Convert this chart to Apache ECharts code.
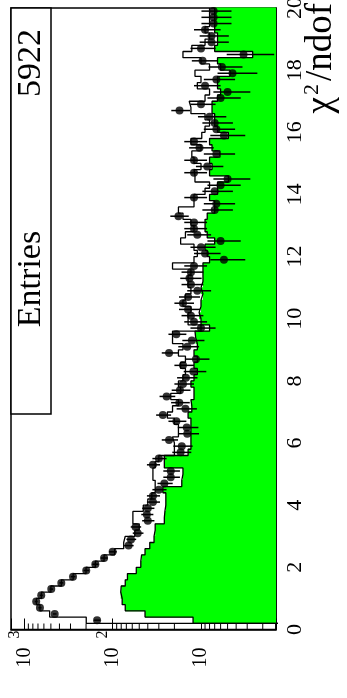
<!DOCTYPE html>
<html><head><meta charset="utf-8">
<script src="https://cdn.jsdelivr.net/npm/echarts@6/dist/echarts.min.js"></script>
<style>html,body{margin:0;padding:0;background:#fff}#c{width:347px;height:698px}</style>
</head><body><div id="c"></div>
<script>
const FONT = 'Liberation Serif';
const chiLo = 0, chiHi = 20, nBins = 100;
const edges = Array.from({length: nBins + 1}, (_, i) => +(chiLo + (chiHi - chiLo) * i / nBins).toFixed(4));

// data points (black markers), bins of 0.2 in chi2/ndof
const dataCounts = [
  0,150,453,665,733,643,495,381,281,199,
  157,125,100,66,62,52,55,40,41,40,
  35,35,30,26,22,22,35,30,17,16.5,
  23,14.3,14.5,19,27,15,17.6,24.5,17.3,16,
  14.8,12.2,16,11.4,23,14.3,12.7,19,10,12,
  13,14,16,14,11,13,13.5,13,12,5.5,
  9,10,6,11,12,12,18,7,6.7,12,
  7,6,5,12,8.5,12,6.7,10.4,12,5.5,
  6.7,7,8,17.5,10,6,5,9,6.7,4.4,
  5.8,9.6,3.3,10,7.6,7.6,9,7.2,7.2,7.2
];
// open (white) histogram
const mcOpen = [
  0,199,516,665,730,640,500,380,280,200,
  157,125,95,75,72,56,50,59,59,45,
  40,36,33,33,35,35,33,30,20,20,
  21,18,18,20,24,21,18,22,17,18,
  16,15,17,15,18,16,21,21,10,14,
  14,13,16,15,13,14,14,13,21,12,
  11,12,17,15,12,13,16,18,12,12,
  9,8,11.7,12,10,12,12.7,10,13,9.8,
  9,8,9,13,13.6,9,8,11,10,11.7,
  8,10,16,12.7,9,8,9,8,8,8
];
// green filled histogram
const mcGreen = [
  0,12.3,43,72,78,81,80,72,68,54,
  48,47,43,38,34,33,33,26,25.6,25,
  25,25,27,16.5,16,16,26,26,14,13,
  13,13,13,13,14,12.7,13,12,12,13,
  12,11,12,11,12,11,11.5,11.7,8,10,
  10.5,10,10,9.5,10,9.5,9.5,9.5,9.5,8,
  8.5,9,7,8.5,9,9,8.5,7,7,8,
  6.5,6.5,4.9,8,7.5,8,6.1,7.5,8,4.9,
  6.5,7,7,7.5,7.5,6.5,6,6.5,6.5,4.7,
  6,6.5,2.6,7,6.5,6.5,7,7,7,7
];
const countMin = 1.416, countMax = 1414;
const chiTicks = [0,2,4,6,8,10,12,14,16,18,20];
const logMajorLabels = {1: '10', 2: '10', 3: '10'};
const logMinorValues = [2,3,4,5,6,7,8,9,20,30,40,50,60,70,80,90,200,300,400,500,600,700,800,900];
const statsLabel = 'Entries', statsValue = '5922';
const FLOOR = 0.5;

function stepPoints(vals) {
  const pts = [];
  for (let i = 0; i < nBins; i++) {
    const v = vals[i] > 0 ? vals[i] : FLOOR;
    pts.push([v, edges[i]], [v, edges[i + 1]]);
  }
  return pts;
}

const chart = echarts.init(document.getElementById('c'), null, {renderer: 'canvas'});

function renderFill(params, api) {
  const v = api.value(0), lo = api.value(1), hi = api.value(2);
  const cs = params.coordSys;
  const a = api.coord([v, hi]), b = api.coord([v, lo]);
  const x0 = Math.max(a[0], cs.x), x1 = cs.x + cs.width;
  return {type: 'rect', shape: {x: x0, y: a[1] - 0.4, width: x1 - x0, height: b[1] - a[1] + 0.8},
          style: {fill: '#00ff00'}};
}
function renderErr(params, api) {
  const v = api.value(0), c = api.value(1), e = Math.sqrt(v);
  const cs = params.coordSys;
  const p1 = api.coord([v + e, c]), p2 = api.coord([Math.max(v - e, 1e-3), c]);
  const xa = Math.max(p1[0], cs.x), xb = Math.min(p2[0], cs.x + cs.width);
  return {type: 'line', shape: {x1: xa, y1: p1[1], x2: xb, y2: p2[1]}, style: {stroke: '#000', lineWidth: 1.5}};
}
function renderMinor(params, api) {
  const p = api.coord([api.value(0), chiLo]);
  return {type: 'line', shape: {x1: p[0], y1: p[1], x2: p[0], y2: p[1] - 6}, style: {stroke: '#000', lineWidth: 1}};
}

const fillData = [];
mcGreen.forEach((v, i) => { if (v > 0) fillData.push([v, edges[i], edges[i + 1]]); });
const pointData = [];
dataCounts.forEach((v, i) => { if (v > 0) pointData.push([v, (edges[i] + edges[i + 1]) / 2]); });

chart.setOption({
  animation: false,
  backgroundColor: '#fff',
  grid: {left: 11, right: 71, top: 8, bottom: 68.5, show: true, borderColor: '#000', borderWidth: 1.5, backgroundColor: 'transparent', outerBoundsMode: 'none', containLabel: false},
  xAxis: {
    type: 'log', logBase: 10, inverse: true, min: countMin, max: countMax, position: 'bottom',
    axisLine: {show: true, lineStyle: {color: '#000', width: 1.5}},
    axisTick: {show: true, inside: true, length: 11, lineStyle: {color: '#000', width: 1}},
    splitLine: {show: false}, minorTick: {show: false},
    axisLabel: {
      rotate: 90, margin: 1, showMinLabel: true, showMaxLabel: true, hideOverlap: false,
      fontFamily: FONT, fontSize: 20, color: '#000',
      formatter: function (val) {
        const e = Math.log10(val), r = Math.round(e);
        if (Math.abs(e - r) > 1e-6 || !logMajorLabels[r]) return '';
        return r === 1 ? '{b|' + logMajorLabels[r] + '}{p|}' : '{b|' + logMajorLabels[r] + '}{s|' + r + '}';
      },
      rich: {
        b: {fontFamily: FONT, fontSize: 20, color: '#000', lineHeight: 35, verticalAlign: 'middle'},
        s: {fontFamily: FONT, fontSize: 16, color: '#000', lineHeight: 17, padding: [0, 0, 0, 9], verticalAlign: 'top'},
        p: {width: 17, lineHeight: 35}
      }
    }
  },
  yAxis: {
    type: 'value', position: 'right', min: chiLo, max: chiHi, interval: 2,
    axisLine: {show: true, lineStyle: {color: '#000', width: 1.5}},
    axisTick: {show: true, inside: true, length: 12, lineStyle: {color: '#000', width: 1}},
    minorTick: {show: true, splitNumber: 4, length: 6, lineStyle: {color: '#000', width: 1}},
    splitLine: {show: false}, minorSplitLine: {show: false},
    axisLabel: {rotate: 90, margin: 8, color: '#000', fontFamily: FONT, fontSize: 22,
      formatter: v => chiTicks.includes(v) ? String(v) : ''}
  },
  series: [
    {type: 'custom', name: 'fill', data: fillData, renderItem: renderFill, z: 1, silent: true,
     encode: {x: 0, y: [1, 2]}},
    {type: 'line', name: 'greenOutline', data: stepPoints(mcGreen), symbol: 'none', z: 2, clip: true,
     lineStyle: {color: '#000', width: 1.3}},
    {type: 'line', name: 'openOutline', data: stepPoints(mcOpen), symbol: 'none', z: 3, clip: true,
     lineStyle: {color: '#000', width: 1.3}},
    {type: 'custom', name: 'minor', data: logMinorValues.map(v => [v, chiLo]), renderItem: renderMinor, z: 4,
     encode: {x: 0, y: 1}},
    {type: 'custom', name: 'err', data: pointData, renderItem: renderErr, z: 5, encode: {x: 0, y: 1}},
    {type: 'scatter', name: 'data', data: pointData, symbol: 'circle', symbolSize: 8, z: 6,
     itemStyle: {color: '#000'}}
  ],
  graphic: [
    {type: 'rect', z: 100, shape: {x: 11, y: 8, width: 40, height: 406},
     style: {fill: '#fff', stroke: '#000', lineWidth: 1.5}},
    {type: 'text', z: 101, x: 31, y: 279, rotation: Math.PI / 2,
     style: {text: statsLabel, font: '34px "Liberation Serif"', fill: '#000', align: 'center', verticalAlign: 'middle'}},
    {type: 'text', z: 101, x: 31, y: 63, rotation: Math.PI / 2,
     style: {text: statsValue, font: '34px "Liberation Serif"', fill: '#000', align: 'center', verticalAlign: 'middle'}},
    {type: 'text', z: 101, x: 320.5, y: 3, rotation: Math.PI / 2,
     style: {text: '{a|χ}{s|2}{a|/ndof}', align: 'right', verticalAlign: 'middle',
       rich: {a: {font: '37px "Liberation Serif"', fill: '#000', lineHeight: 38, verticalAlign: 'bottom'},
              s: {font: '22px "Liberation Serif"', fill: '#000', lineHeight: 22, padding: [0, 3, 16, 2], verticalAlign: 'top'}}}}
  ]
});
</script></body></html>
